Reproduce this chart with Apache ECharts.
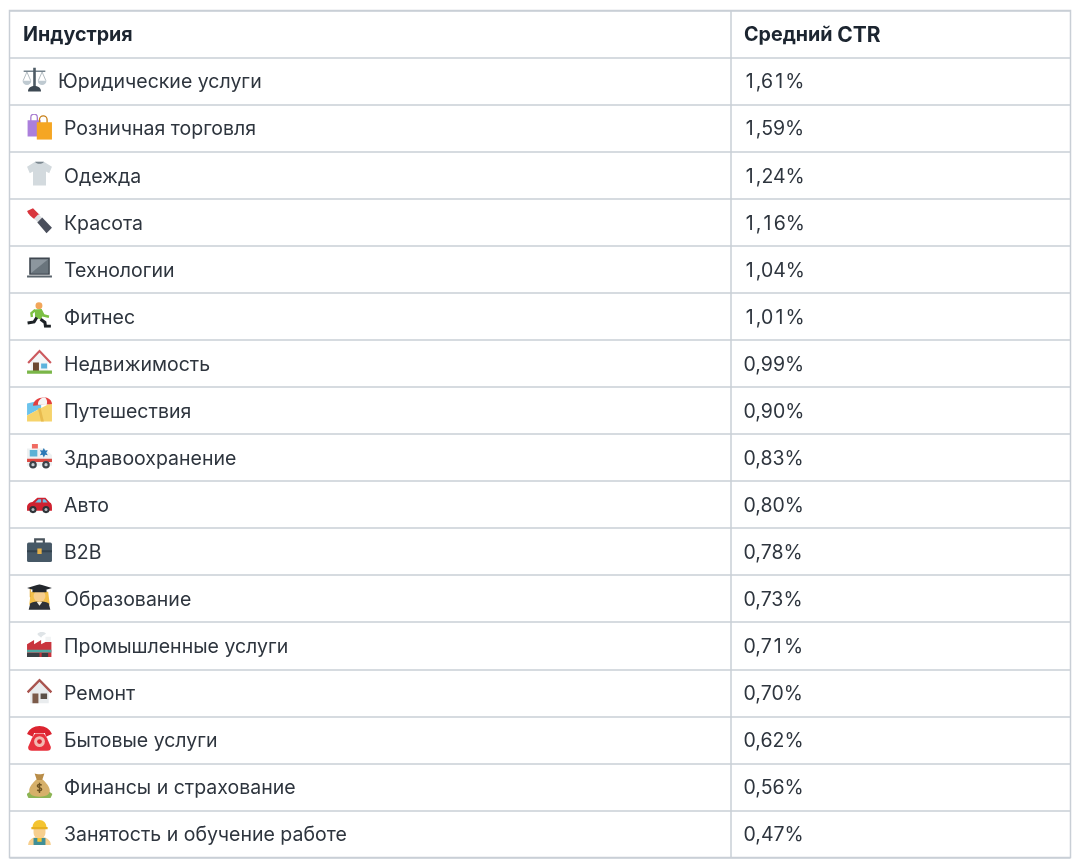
<!DOCTYPE html>
<html><head><meta charset="utf-8">
<style>html,body{margin:0;padding:0;background:#fff}#c{width:1080px;height:867px}</style>
<script src="https://cdn.jsdelivr.net/npm/echarts@6/dist/echarts.min.js"></script>
</head><body><div id="c"></div>
<script>
const headers = ['Индустрия', 'Средний CTR'];
const industries = ['Юридические услуги','Розничная торговля','Одежда','Красота','Технологии','Фитнес','Недвижимость','Путешествия','Здравоохранение','Авто','B2B','Образование','Промышленные услуги','Ремонт','Бытовые услуги','Финансы и страхование','Занятость и обучение работе'];
const ctrValues = [1.61,1.59,1.24,1.16,1.04,1.01,0.99,0.90,0.83,0.80,0.78,0.73,0.71,0.70,0.62,0.56,0.47];

const icons = [
// scales
"<path fill='#bfcad1' d='M1 13h8a4 4 0 0 1-8 0zM15 13h8a4 4 0 0 1-8 0z'/><path stroke='#8d9aa3' stroke-width='.6' fill='none' d='M5 5 1.500 13M5 5 8.500 13M19 5l-3.500 8M19 5l3.500 8'/><path fill='#75838d' d='M2 3.500h20V5H2z'/><path fill='#4d5a64' d='M10.800 1h2.400v18h-2.400z'/><path fill='#3c4852' d='M6 23c0-3.500 3-5 6-5s6 1.500 6 5z'/>",
// bags
"<path fill='none' stroke='#a77bd0' stroke-width='1.200' d='M4 7V3.500a3 3 0 0 1 6 0V7'/><path fill='#ab7fdc' d='M1 6h12v15H1z'/><path fill='none' stroke='#c77f16' stroke-width='1.200' d='M12 9V5.500a3.500 3.500 0 0 1 7 0V9'/><path fill='#f5a623' d='M9.500 8h14v16h-14z'/>",
// t-shirt
"<path fill='#d3dade' d='M8 1 .5 5.500l2.500 6L6 10v13h12V10l3 1.500 2.500-6L16 1z'/><path fill='#7c8890' d='M8 1h8c-1 2.500-7 2.500-8 0z'/>",
// lipstick
"<path fill='#d8343c' d='M.5 3 6 .5l6 6-4.500 4C4.500 8.500 1.500 6 .5 3z'/><path fill='#dcdfe3' d='m7 10 4-4 3.500 3.500-4 4z'/><path fill='#4a4f5c' d='m10 13.500 4.500-4.500 9 9.500-5 5z'/>",
// laptop
"<path fill='#3f4750' d='M2.500 2.500h19v16h-19z'/><path fill='#8c969e' d='M4 4h16v13H4z'/><path fill='#69747c' d='m4 17 16-13v13z'/><path fill='#59636b' d='M.5 19h23v2H.5z'/>",
// runner
"<circle cx='11.500' cy='3.500' r='3.200' fill='#f2a65a'/><path fill='#7cc043' d='m7.500 7 6.500-.5 2.500 5 4.500 1-.5 2.500-6-1.500-1 3-5.500-2z'/><path fill='none' stroke='#7cc043' stroke-width='2.200' d='m8 7.500-3.500 3 .5 3.500'/><path fill='none' stroke='#1d2226' stroke-width='2.800' d='M9.500 14.500 7 18.500l-6 1M13 16l4 3 .5 3.500h5'/>",
// house
"<path fill='#f4f6f7' d='M4 11 12 3l8 8v10H4z'/><path fill='none' stroke='#cc5a5f' stroke-width='2' d='M1.500 13 12 2l10.500 11'/><path fill='#6e4a32' d='M6 12.500h5.500V21H6z'/><path fill='#5cb3dd' d='M13.500 13.500h5.500v4.500h-5.500z'/><path fill='#7ab648' d='M.5 20h23v3H.5z'/>",
// map with beach
"<path fill='#6cc3ec' d='m.5 7 13-3v7L.5 18z'/><path fill='#f6d36b' d='M.5 23.500V18l13-7 10-5v17.500z'/><path fill='#e8bb4e' d='m13 11 3 12.500h-2.500l-3-12z'/><path fill='#e33f3f' d='M6 9C6 4 12 .5 18 1.500c4 1 5.500 4 5.500 6z'/><path fill='#f5f5f5' d='M10.500 8c0-4 3-6.500 6.500-6.500 2.500 2 2.200 5 1.500 6.800z'/>",
// ambulance
"<path fill='#eef1f2' d='M.5 5h16l7 6v10H.5z'/><path fill='#dc4a43' d='M.5 14.500h23v3H.5z'/><path fill='#f06b62' d='M5 1h5.500v4H5z'/><path fill='#5ab2d6' d='M3 6.500h7v6H3z'/><path fill='#2b78b6' d='m16 4.500 1.200 2.500 2.500-.4-1.500 2.300 1.500 2.300-2.500-.4-1.200 2.500-1.200-2.500-2.500.4 1.500-2.300-1.500-2.300 2.500.4z'/><circle cx='6' cy='20' r='3.500' fill='#3b4248'/><circle cx='18' cy='20' r='3.500' fill='#3b4248'/><circle cx='6' cy='20' r='1.500' fill='#c8ced3'/><circle cx='18' cy='20' r='1.500' fill='#c8ced3'/>",
// car
"<path fill='#cf2230' d='M.5 16c0-3 2-4.500 5-5L10 7h7.500l4 4.500c1.500.5 2 2 2 4.500v3H.5z'/><path fill='#6fbfe3' d='m8 11.500 3-3h2.500v3zM15 8.500h2l2.500 3H15z'/><circle cx='6' cy='18' r='3.300' fill='#2e3338'/><circle cx='18' cy='18' r='3.300' fill='#2e3338'/><circle cx='6' cy='18' r='1.400' fill='#b5bbc0'/><circle cx='18' cy='18' r='1.400' fill='#b5bbc0'/>",
// briefcase
"<path fill='none' stroke='#4a545c' stroke-width='2' d='M8 6V2h8v4'/><rect x='.5' y='5' width='23' height='18' rx='1.500' fill='#465866'/><path fill='#33424e' d='M.5 12h23v2H.5z'/><path fill='#e3b04a' d='M10 10.500h4v5h-4z'/>",
// student
"<path fill='#f3c04a' d='M4 7h16l1.500 12h-19z'/><path fill='#2d3238' d='M3.500 17.500c3-1.500 5.500-1.500 8.500-1.500s5.500 0 8.500 1.500l1.500 6H2z'/><circle cx='12' cy='11' r='5.500' fill='#f7cf8e'/><path fill='#f6f0e0' d='m9.500 16.500 2.500 3.500 2.500-3.500z'/><path fill='#23272c' d='M.5 3.500 12 0l11.500 3.500L12 7z'/><path fill='#23272c' d='M5.500 5h13v2.500h-13z'/><path fill='#e2a830' d='M3 4.500h1V12H3z'/>",
// factory
"<path fill='#dfe4e7' d='M10 2.500c2-2.500 6-2 8-.5-1 1.500-3.500 1.500-4.500 4-1-1.500-3-2-3.500-3.500z'/><path fill='#f1f3f4' d='M17.500 5h5v6.500h-5z'/><path fill='#c9343d' d='M.5 12l6.500-4v4l6.500-4v4l4-2h5.500v14H.5z'/><path fill='#4fa9a3' d='M.5 17h22.500v2.500H.5z'/><path fill='#3a3f44' d='M14 20h6v4h-6zM.5 20H12v4H.5z'/>",
// derelict house
"<path fill='#e9ecee' d='M3.500 11 12 3l8.500 8v12h-17z'/><path fill='none' stroke='#a9544f' stroke-width='2.200' d='M1 13 12 1.800 23 13'/><path fill='#7c5b4a' d='M5.500 14H11v9H5.500z'/><path fill='#5b5048' d='M13 14h6v5h-6z'/>",
// telephone
"<path fill='#dc2430' d='M.5 8C2.500 3 7 .5 12 .5S21.500 3 23.500 8l-5.500 2.500-1-3.500H7l-1 3.500z'/><path fill='#e8323d' d='M5 12 8 7.500h8l3 4.500 3.500 8c0 2.500-1 3.500-3.500 3.500H5c-2.500 0-3.500-1-3.500-3.500z'/><circle cx='12' cy='15' r='5' fill='#f2b9b0'/><circle cx='12' cy='15' r='2.200' fill='#dc2430'/>",
// money bag
"<path fill='#8cb454' d='M0 20l5-3.500h14L24 20l-2 4H2z'/><path fill='#d6b06a' d='M9 6.500h6c3 3 6.500 6.500 6.500 10.500 0 3.500-3.500 5.500-9.500 5.500S2.500 20.500 2.500 17c0-4 3.500-7.500 6.500-10.500z'/><path fill='#b98d48' d='M7.500 1c2 1 7 1 9 0L14.500 7h-5z'/><path fill='none' stroke='#6d5323' stroke-width='1.300' d='M14 12c-1-1.500-4-1-4 .5s4 1.500 4 3-3 2-4 .5M12 9.500V19'/>",
// worker
"<path fill='#f7cf8e' d='M6.500 7h11v5.500a5.500 5.500 0 0 1-11 0z'/><path fill='#f4c430' d='M5.500 8c0-5 3-7.500 6.500-7.500S18.500 3 18.500 8z'/><path fill='#e8b020' d='M4.500 7h15v2h-15z'/><path fill='#f7cf8e' d='M1.500 24c0-5.500 4.500-8 10.500-8s10.500 2.500 10.500 8z'/><path fill='#3f8f96' d='M6.500 17h11v7h-11z'/><path fill='#f4c430' d='M10 17h4v3.500h-4z'/>"
];
const iconUrl = s => 'image://data:image/svg+xml;charset=utf-8,' + encodeURIComponent("<svg xmlns='http://www.w3.org/2000/svg' viewBox='0 0 24 24' width='96' height='96'>" + s + "</svg>");

const FONT = 'Inter, "Noto Sans", sans-serif';
const TEXT = '#2e353e';
const HEAD = '#1c2530';
const SIZE = 19.5;
const rows = [headers[0], ...industries];
const fmt = v => v.toFixed(2).replace('.', ',').replace(/1/g, '{o|1}') + '%';
const headFmt = s => s.replace('CTR', '{l|CTR}');
const label = (size, weight, color) => ({show:true, position:'right', distance:0, offset:[0,1.5], fontFamily:FONT, fontSize:size, fontWeight:weight, color});
const LINE = '#c9cfd6';
const solid = {opacity:1};
const chart = echarts.init(document.getElementById('c'), null, {renderer:'canvas'});
chart.setOption({
  backgroundColor:'#fff', animation:false,
  grid:{left:9.5, top:10.5, width:1061, height:847, show:true, borderColor:LINE, borderWidth:1.5, backgroundColor:'#fff'},
  xAxis:{type:'value', min:0, max:1061, show:false},
  yAxis:{type:'category', inverse:true, data:rows, axisLine:{show:false}, axisTick:{show:false}, axisLabel:{show:false},
    splitLine:{show:true, interval:0, lineStyle:{color:LINE, width:1.5}}},
  series:[
    {type:'scatter', name:'col1', symbolSize:0, silent:true, itemStyle:solid, label:{...label(SIZE,400,TEXT), formatter:p=>p.data[1]},
      data:industries.map((n,i)=>[i===0?48.5:54.5,n]),
      markLine:{silent:true, symbol:'none', label:{show:false}, lineStyle:{color:LINE,width:1.5,type:'solid',opacity:1}, data:[{xAxis:721.5}]}},
    {type:'scatter', name:'hdr', symbolSize:0, silent:true, itemStyle:solid,
      label:{...label(19.7,700,HEAD), formatter:p=>headFmt(p.data[2]),
        rich:{l:{fontFamily:FONT, fontSize:21, fontWeight:700, color:HEAD}}},
      data:[[13.5,rows[0],headers[0]],[734.5,rows[0],headers[1]]]},
    {type:'scatter', name:'ctr', symbolSize:0, silent:true, itemStyle:solid,
      label:{...label(SIZE,400,TEXT), formatter:p=>fmt(p.data[2]),
        rich:{o:{width:12.3, align:'center', fontFamily:FONT, fontSize:SIZE, fontWeight:400, color:TEXT}}},
      data:industries.map((n,i)=>[734,n,ctrValues[i]])},
    {type:'scatter', name:'icons', silent:true, symbolSize:26, symbolOffset:[0,-1.5], itemStyle:solid,
      data:industries.map((n,i)=>({value:[i===0?25:30,n], symbol:iconUrl(icons[i])}))}
  ]
});
</script></body></html>
